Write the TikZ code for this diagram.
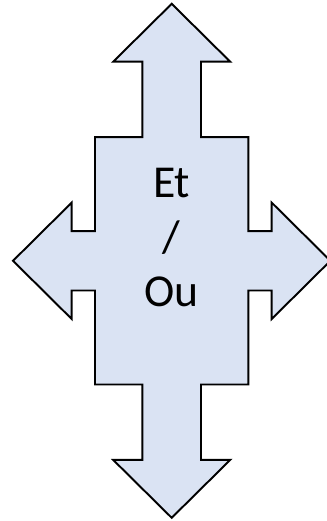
\documentclass[tikz,border=0pt]{standalone}
\usepackage{fontspec}
\setmainfont{Carlito}
\definecolor{arrowfill}{RGB}{218,227,243}
\begin{document}
\begin{tikzpicture}[x=0.02cm,y=0.02cm,shape4/.style={draw=black,fill=arrowfill,line width=1.1pt,line join=miter},lbl/.style={align=center,font=\fontsize{26}{31}\selectfont}]
\useasboundingbox (-171.7,-260.2) rectangle (154.3,260.8);
\draw[shape4] (0,257) -- (58.5,199.1) -- (29.3,199.1) -- (29.3,123.7) -- (76.7,123.7) -- (76.7,29.7) -- (100,29.7) -- (100,58.2) -- (158.7,0) -- (100,-58.2) -- (100,-29.7) -- (76.7,-29.7) -- (76.7,-123.7) -- (29.3,-123.7) -- (29.3,-199.1) -- (58.5,-199.1) -- (0,-257) -- (-58.5,-199.1) -- (-29.3,-199.1) -- (-29.3,-123.7) -- (-76.7,-123.7) -- (-76.7,-29.7) -- (-100,-29.7) -- (-100,-58.2) -- (-158.7,0) -- (-100,58.2) -- (-100,29.7) -- (-76.7,29.7) -- (-76.7,123.7) -- (-29.3,123.7) -- (-29.3,199.1) -- (-58.5,199.1) -- cycle;
\node[lbl] (etou) at (0,23) {Et\\/\\Ou};
\end{tikzpicture}
\end{document}
